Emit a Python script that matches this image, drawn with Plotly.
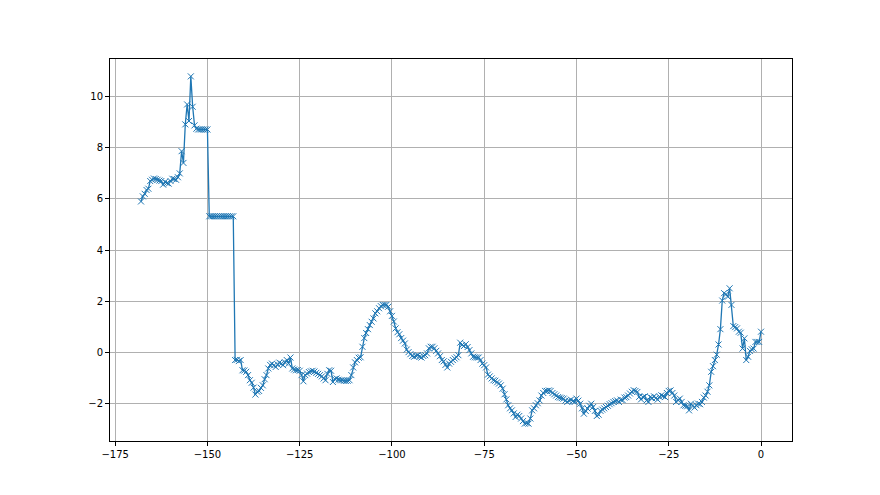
import numpy as np
import plotly.graph_objects as go

# x positions: -168 to 0 every 0.5
x_start = -168.0
x_step = 0.5

# y values, rows of 10 (each row spans 5 units)
y_values = [
    5.9, 6.1, 6.2, 6.35, 6.4, 6.7, 6.75, 6.8, 6.78, 6.75,          # -168
    6.72, 6.7, 6.56, 6.67, 6.62, 6.6, 6.7, 6.79, 6.78, 6.75,        # -163
    6.85, 7.0, 7.87, 7.41, 8.92, 9.7, 9.05, 10.8, 9.61, 8.88,       # -158
    8.75, 8.72, 8.72, 8.72, 8.72, 8.72, 8.72, 5.32, 5.32, 5.32,     # -153
    5.32, 5.32, 5.32, 5.32, 5.32, 5.32, 5.32, 5.32, 5.32, 5.32,     # -148
    5.32, -0.31, -0.3, -0.35, -0.31, -0.71, -0.72, -0.77, -0.9, -1.1,   # -143
    -1.2, -1.39, -1.66, -1.55, -1.52, -1.4, -1.3, -1.06, -0.9, -0.64,   # -138
    -0.5, -0.45, -0.52, -0.58, -0.48, -0.41, -0.45, -0.51, -0.4, -0.31, # -133
    -0.45, -0.21, -0.64, -0.68, -0.71, -0.7, -0.73, -0.9, -1.14, -0.9,  # -128
    -0.84, -0.78, -0.75, -0.73, -0.76, -0.81, -0.85, -0.9, -0.95, -1.03, # -123
    -1.1, -0.85, -0.71, -0.73, -1.17, -1.05, -1.03, -1.08, -1.1, -1.1,  # -118
    -1.12, -1.13, -1.12, -1.1, -0.9, -0.6, -0.4, -0.31, -0.22, -0.2,    # -113
    0.21, 0.55, 0.75, 0.9, 1.06, 1.19, 1.32, 1.52, 1.6, 1.72,           # -108
    1.8, 1.85, 1.85, 1.85, 1.78, 1.6, 1.42, 1.2, 0.93, 0.78,            # -103
    0.7, 0.55, 0.45, 0.34, 0.1, 0.0, -0.08, -0.15, -0.18, -0.14,        # -98
    -0.12, -0.18, -0.21, -0.15, -0.12, -0.05, 0.15, 0.21, 0.21, 0.15,   # -93
    0.05, -0.05, -0.16, -0.31, -0.36, -0.5, -0.6, -0.45, -0.38, -0.31,  # -88
    -0.25, -0.2, -0.12, 0.37, 0.28, 0.24, 0.31, 0.2, 0.08, -0.05,       # -83
    -0.18, -0.2, -0.21, -0.21, -0.31, -0.45, -0.51, -0.6, -0.88, -0.95, # -78
    -1.03, -1.1, -1.12, -1.18, -1.23, -1.3, -1.43, -1.65, -1.85, -2.08, # -73
    -2.2, -2.28, -2.4, -2.54, -2.45, -2.5, -2.6, -2.7, -2.8, -2.78,     # -68
    -2.8, -2.6, -2.28, -2.2, -2.08, -2.0, -1.89, -1.7, -1.6, -1.52,     # -63
    -1.52, -1.5, -1.52, -1.6, -1.65, -1.7, -1.76, -1.78, -1.8, -1.82,   # -58
    -1.9, -1.95, -1.9, -1.86, -1.92, -1.95, -1.82, -1.9, -2.02, -2.2,   # -53
    -2.41, -2.3, -2.21, -2.1, -2.02, -2.15, -2.3, -2.5, -2.45, -2.3,    # -48
    -2.25, -2.2, -2.15, -2.1, -2.04, -2.0, -1.95, -1.92, -1.89, -1.95,  # -43
    -1.86, -1.88, -1.78, -1.76, -1.7, -1.62, -1.55, -1.49, -1.52, -1.56, # -38
    -1.75, -1.85, -1.76, -1.73, -1.89, -1.95, -1.76, -1.8, -1.73, -1.8, # -33
    -1.86, -1.75, -1.69, -1.72, -1.76, -1.6, -1.52, -1.5, -1.6, -1.7,   # -28
    -1.95, -1.88, -1.82, -1.95, -2.08, -2.1, -2.12, -2.28, -2.02, -2.1, # -23
    -2.17, -2.08, -2.02, -2.04, -1.95, -1.78, -1.7, -1.55, -1.3, -0.77, # -18
    -0.55, -0.31, -0.1, 0.3, 0.9, 2.02, 2.31, 2.26, 2.17, 2.5,          # -13
    1.85, 1.02, 0.98, 0.93, 0.8, 0.76, 0.14, 0.54, -0.31, -0.18,        # -8
    0.05, 0.11, 0.14, 0.4, 0.4, 0.4, 0.8,                               # -3
]

x_values = [x_start + x_step * i for i in range(len(y_values))]
assert len(y_values) == 337

x_ticks = [-175, -150, -125, -100, -75, -50, -25, 0]
y_ticks = [-2, 0, 2, 4, 6, 8, 10]

xmin, xmax = min(x_values), max(x_values)
ymin, ymax = min(y_values), max(y_values)
xpad = 0.05 * (xmax - xmin)
ypad = 0.05 * (ymax - ymin)

color = "#1f77b4"
fig = go.Figure()
fig.add_trace(go.Scatter(
    x=x_values, y=y_values, mode="lines+markers",
    line=dict(color=color, width=1.3),
    marker=dict(symbol="x-thin", size=6, line=dict(color=color, width=1), color=color),
    showlegend=False,
))

axis_common = dict(
    showgrid=True, gridcolor="#b0b0b0", gridwidth=0.8,
    showline=True, linecolor="#000000", linewidth=1, mirror=True,
    ticks="outside", ticklen=4, tickcolor="#000000", tickwidth=0.8,
    zeroline=False,
    tickfont=dict(family="DejaVu Sans", size=10, color="#000000"),
)

# page body has an 8px default margin; compensate so the axes box lands
# at the same place as the reference
fig.update_layout(
    width=872, height=487,
    margin=dict(l=102, r=88, t=51, b=54),
    paper_bgcolor="white", plot_bgcolor="white",
    xaxis=dict(range=[xmin - xpad, xmax + xpad], tickvals=x_ticks, **axis_common),
    yaxis=dict(range=[ymin - ypad, ymax + ypad], tickvals=y_ticks, **axis_common),
)

fig.write_html("out.html")
